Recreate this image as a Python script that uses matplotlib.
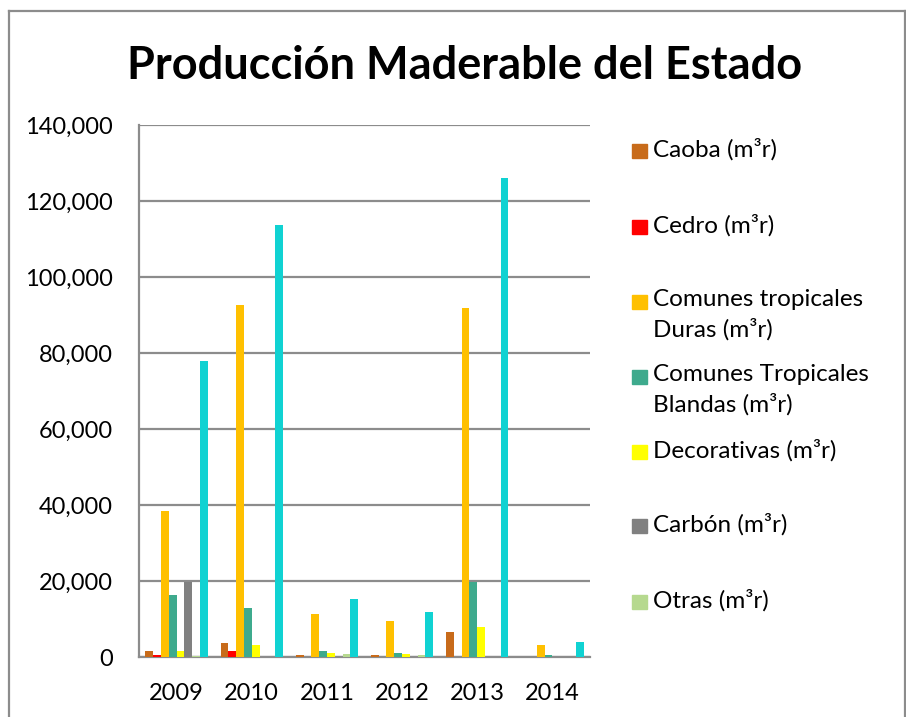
import matplotlib
matplotlib.use("Agg")
import matplotlib.pyplot as plt
import numpy as np
from matplotlib.patches import Rectangle
from matplotlib.lines import Line2D

plt.rcParams['font.family'] = ['Lato', 'DejaVu Sans']

years = ["2009", "2010", "2011", "2012", "2013", "2014"]
caoba = [1500, 3600, 500, 500, 6500, 0]
cedro = [600, 1600, 0, 0, 0, 0]
duras = [38300, 92700, 11300, 9400, 91800, 3250]
blandas = [16400, 12800, 1650, 1050, 19800, 400]
decorativas = [1650, 3150, 1000, 800, 7900, 0]
carbon = [19700, 0, 0, 0, 0, 0]
otras = [300, 0, 900, 400, 0, 0]
total = [77800, 113600, 15250, 11850, 126000, 3950]

series = [caoba, cedro, duras, blandas, decorativas, carbon, otras, total]
labels = ["Caoba (m³r)", "Cedro (m³r)", "Comunes tropicales\nDuras (m³r)",
          "Comunes Tropicales\nBlandas (m³r)", "Decorativas (m³r)",
          "Carbón (m³r)", "Otras (m³r)", "Total (m³r)"]
colors = ["#C86B1A", "#FF0000", "#FFC000", "#3EAA8D", "#FFFF00",
          "#808080", "#B6D98F", "#10D2D2"]

W, H = 906, 717
fig = plt.figure(figsize=(W / 100, H / 100), dpi=100)
fig.patch.set_facecolor("white")

def fx(px):
    return px / W

def fy(py):
    return 1 - py / H

ax = fig.add_axes([fx(139), fy(657), fx(590) - fx(139), fy(125) - fy(657)])
x = np.arange(len(years))
n = len(series)
w = 0.1037
for i, (vals, c, lab) in enumerate(zip(series, colors, labels)):
    ax.bar(x + (i - (n - 1) / 2) * w, vals, width=w, color=c, label=lab,
           zorder=3, linewidth=0)

ax.set_xlim(-0.5, len(years) - 0.5)
ax.set_ylim(0, 140000)
ax.set_yticks(np.arange(0, 140001, 20000))
ax.set_yticklabels([f"{v:,.0f}" for v in np.arange(0, 140001, 20000)])
ax.set_xticks(x)
ax.set_xticklabels(years)
ax.tick_params(axis='both', length=0, labelsize=17, colors="black")
ax.tick_params(axis='y', pad=19)
ax.tick_params(axis='x', pad=19)
ax.yaxis.grid(True, color="#8C8C8C", linewidth=1.6, zorder=0)
ax.set_axisbelow(True)
for s in ["top", "right"]:
    ax.spines[s].set_visible(False)
for s in ["left", "bottom"]:
    ax.spines[s].set_color("#8C8C8C")
    ax.spines[s].set_linewidth(1.6)

# title
fig.text(fx(465), fy(66), "Producción Maderable del Estado", ha="center",
         va="center", fontsize=32.5, fontweight="bold")

# legend (manual, first 7 entries)
ycent = [151, 227, 302, 377, 452, 526, 602]
for yc, lab, c in zip(ycent, labels[:7], colors[:7]):
    fig.patches.append(Rectangle((fx(632), fy(yc + 7)), fx(647) - fx(632),
                                 fy(yc - 7) - fy(yc + 7), color=c,
                                 transform=fig.transFigure, figure=fig))
    fig.text(fx(653), fy(yc - 13), lab, ha="left", va="top", fontsize=17.5,
             linespacing=1.42)

# outer border
for xs, ys in [((9, 9), (11, 717)), ((9, 905), (11, 11)), ((905, 905), (11, 717))]:
    fig.lines.append(Line2D([fx(v) for v in xs], [fy(v) for v in ys],
                            color="#8C8C8C", linewidth=1.6,
                            transform=fig.transFigure, figure=fig))

fig.savefig("out.png", dpi=100, facecolor="white")
